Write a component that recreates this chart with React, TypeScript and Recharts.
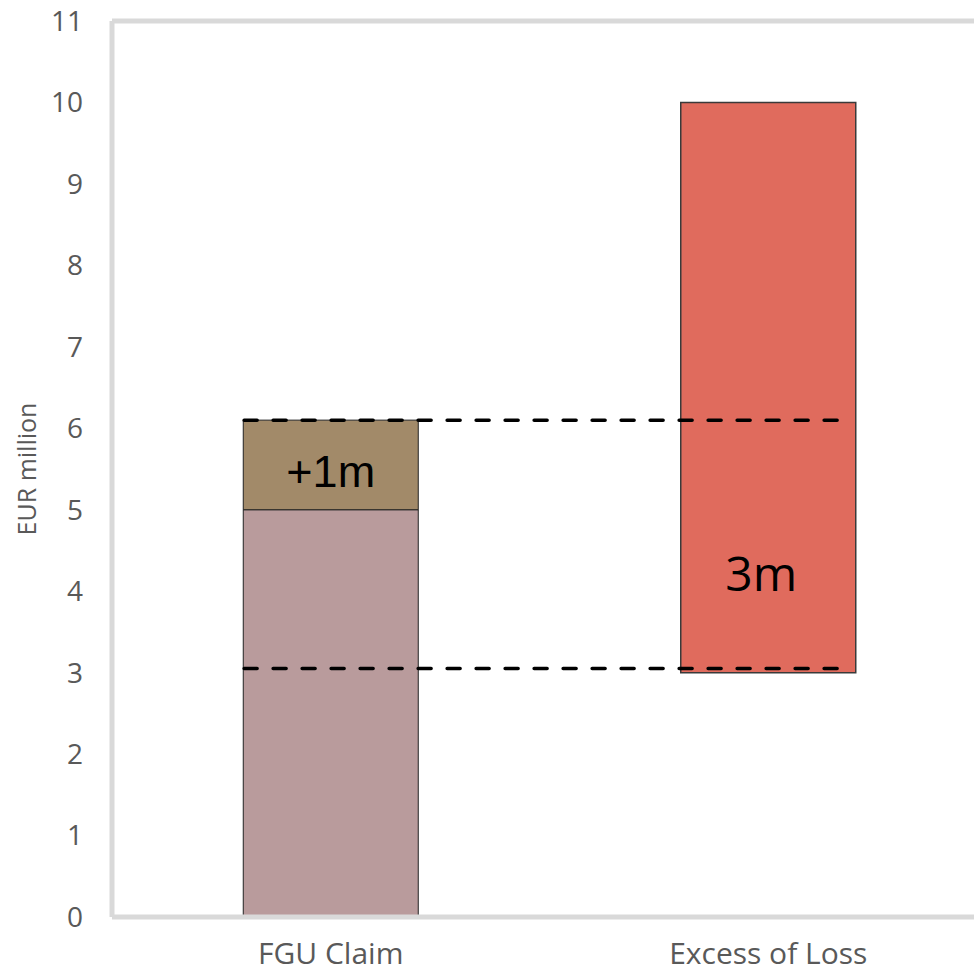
import React from 'react';
import {
  ComposedChart,
  Bar,
  XAxis,
  YAxis,
  ReferenceLine,
  LabelList,
  Label,
} from 'recharts';

// Layer structure: FGU claim (base + increase) vs. the excess-of-loss layer
const categories = ['FGU Claim', 'Excess of Loss'];
const offsetValues = [null, 3]; // invisible spacer under the layer
const baseValues = [5, null];
const increaseValues = [1.1, null];
const layerValues = [null, 7];
const segmentLabels = { increase: '+1m', layer: '3m' };

const yTicks = [0, 1, 2, 3, 4, 5, 6, 7, 8, 9, 10, 11];
const retentionLine = 3.05;
const claimLine = 6.1;

const data = categories.map((name, i) => ({
  name,
  offset: offsetValues[i],
  base: baseValues[i],
  increase: increaseValues[i],
  layer: layerValues[i],
}));

const GREY = '#595959';
const FRAME = '#D9D9D9';

// dashed guide spanning from the left edge of the first bar to inside the second
const dashedGuide = (startFrac: number, endFrac: number) => (props: any) => {
  const { x1, x2, y1 } = props;
  const w = x2 - x1;
  return (
    <line
      x1={x1 + w * startFrac}
      x2={x1 + w * endFrac}
      y1={y1}
      y2={y1}
      stroke="#000"
      strokeWidth={3.5}
      strokeDasharray="13 16"
      strokeLinecap="round"
    />
  );
};

const AxisTitle = (props: any) => {
  const { viewBox } = props;
  const cx = 29;
  const cy = viewBox.y + viewBox.height / 2;
  return (
    <text
      x={cx}
      y={cy}
      transform={`rotate(-90 ${cx} ${cy})`}
      textAnchor="middle"
      dominantBaseline="middle"
      fill={GREY}
      fontSize={25}
      fontFamily="Open Sans, sans-serif"
    >
      EUR million
    </text>
  );
};

const IncreaseLabel = (props: any) => {
  const { x, y, width, height, value } = props;
  if (value == null) return null;
  return (
    <text
      x={x + width / 2}
      y={y + height / 2 + 10}
      textAnchor="middle"
      dominantBaseline="middle"
      fontFamily="Liberation Sans, Arial, sans-serif"
      fontSize={45}
      fill="#000"
    >
      {segmentLabels.increase}
    </text>
  );
};

const LayerLabel = (props: any) => {
  const { x, y, width, height, value } = props;
  if (value == null) return null;
  return (
    <text
      x={x + width / 2 - 7}
      y={y + height - 94}
      textAnchor="middle"
      dominantBaseline="middle"
      fontFamily="Open Sans, sans-serif"
      fontSize={48}
      fill="#000"
    >
      {segmentLabels.layer}
    </text>
  );
};

export default function App() {
  return (
    <div
      style={{
        position: 'fixed',
        left: 0,
        top: 0,
        width: 974,
        height: 974,
        overflow: 'hidden',
        background: '#fff',
      }}
    >
      <ComposedChart
        width={990}
        height={974}
        data={data}
        margin={{ top: 21, right: 3, bottom: 0, left: 0 }}
        barCategoryGap="30%"
      >
        <XAxis
          dataKey="name"
          height={57}
          axisLine={{ stroke: FRAME, strokeWidth: 5 }}
          tickLine={false}
          tickSize={0}
          tickMargin={26}
          tick={{ fill: GREY, fontSize: 30, fontFamily: 'Open Sans, sans-serif' }}
        />
        <YAxis
          domain={[0, 11]}
          ticks={yTicks}
          width={112}
          axisLine={{ stroke: FRAME, strokeWidth: 5 }}
          tickLine={false}
          tickSize={0}
          tickMargin={29}
          tick={{ fill: GREY, fontSize: 28, fontFamily: 'Open Sans, sans-serif' }}
        >
          <Label content={AxisTitle} />
        </YAxis>
        <ReferenceLine y={11} stroke={FRAME} strokeWidth={5} />
        <Bar dataKey="offset" stackId="s" fill="transparent" isAnimationActive={false} />
        <Bar
          dataKey="base"
          stackId="s"
          fill="#B99B9C"
          stroke="#222"
          strokeWidth={1}
          isAnimationActive={false}
        />
        <Bar
          dataKey="increase"
          stackId="s"
          fill="#A28A69"
          stroke="#222"
          strokeWidth={1}
          isAnimationActive={false}
        >
          <LabelList dataKey="increase" content={IncreaseLabel} />
        </Bar>
        <Bar
          dataKey="layer"
          stackId="s"
          fill="#E06B5D"
          stroke="#3a3a3a"
          strokeWidth={1.5}
          isAnimationActive={false}
        >
          <LabelList dataKey="layer" content={LayerLabel} />
        </Bar>
        <ReferenceLine y={claimLine} shape={dashedGuide(0.151, 0.832)} />
        <ReferenceLine y={retentionLine} shape={dashedGuide(0.151, 0.835)} />
      </ComposedChart>
    </div>
  );
}
